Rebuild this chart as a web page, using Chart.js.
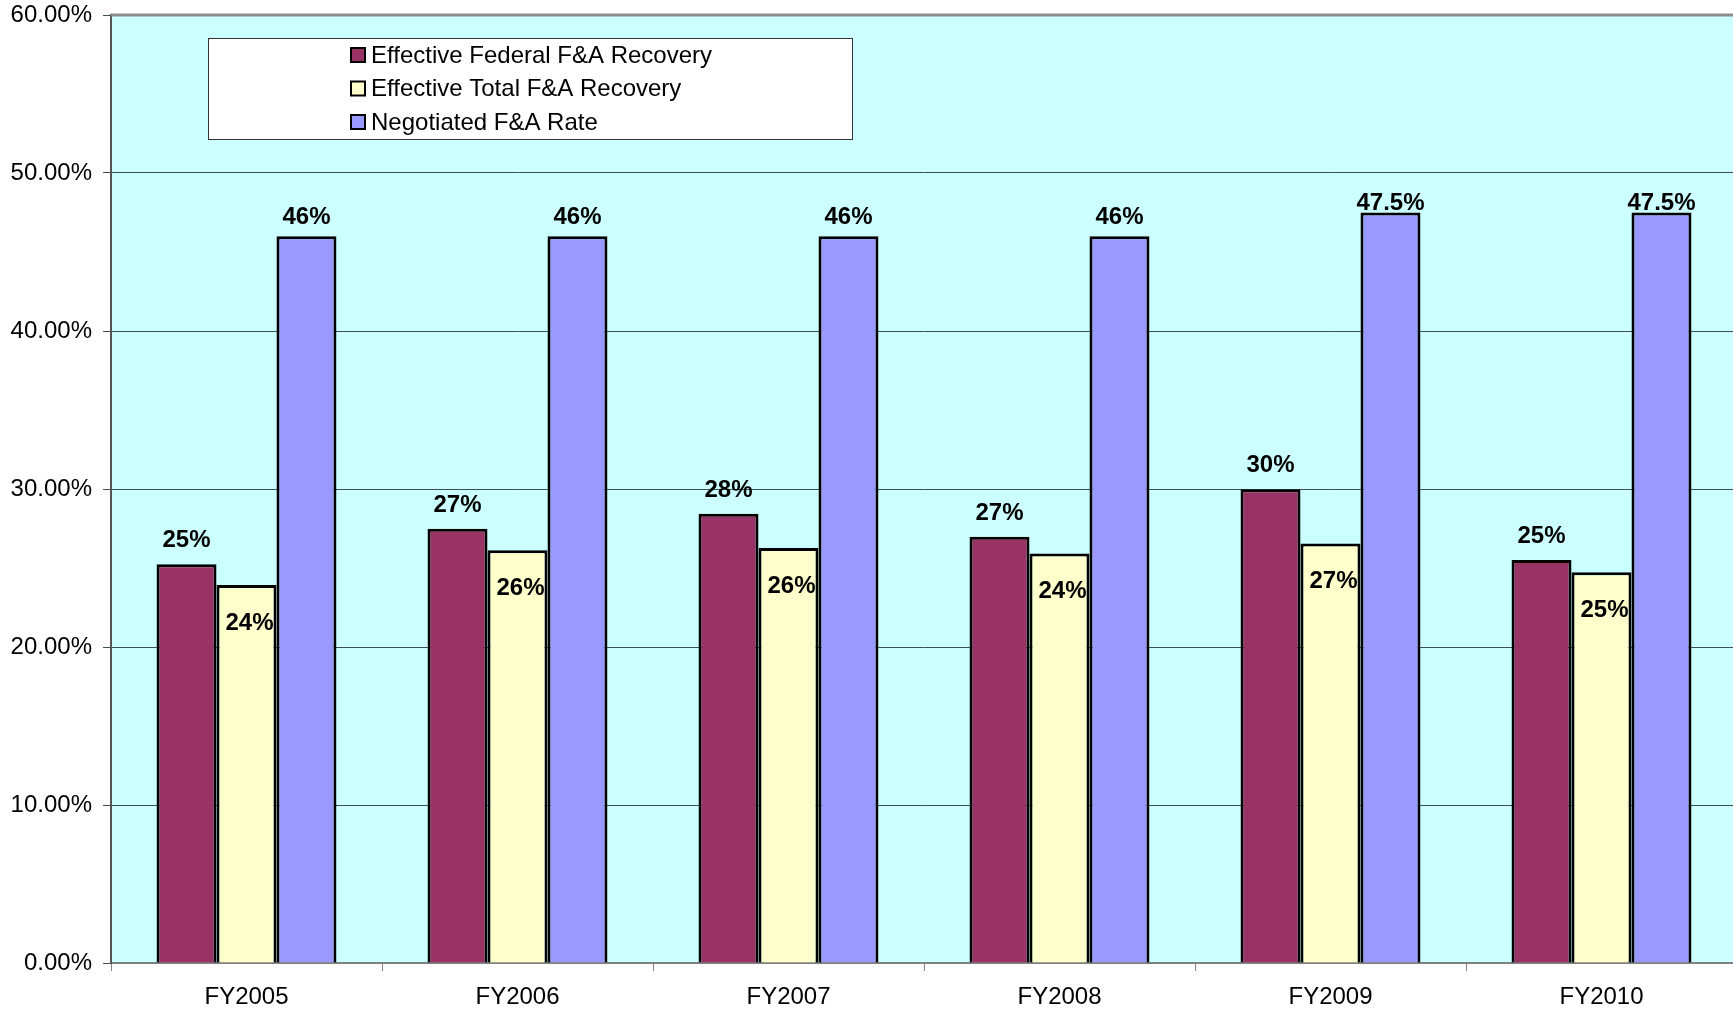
<!DOCTYPE html>
<html>
<head>
<meta charset="utf-8">
<script src="https://cdn.jsdelivr.net/npm/chart.js"></script>
<style>
    html, body { margin: 0; padding: 0; background: #fff; overflow: hidden; }
    #fa_wrap { position: relative; width: 1740px; height: 1010px; }
</style>
</head>
<body>
<div id="fa_wrap"><canvas id="fa_bar" width="1740" height="1010"></canvas></div>
<script>
// ===== データ =====
const categories = ['FY2005', 'FY2006', 'FY2007', 'FY2008', 'FY2009', 'FY2010'];
const seriesNames = ['Effective Federal F&A Recovery', 'Effective Total F&A Recovery', 'Negotiated F&A Rate'];
const federalRecovery = [25.24, 27.48, 28.43, 26.97, 29.99, 25.51];
const totalRecovery = [23.93, 26.13, 26.27, 25.92, 26.55, 24.73];
const negotiatedRate = [46, 46, 46, 46, 47.5, 47.5];
// 棒の上に表示されるラベル（元の図のまま）
const federalLabels = ['25%', '27%', '28%', '27%', '30%', '25%'];
const totalLabels = ['24%', '26%', '26%', '24%', '27%', '25%'];
const negotiatedLabels = ['46%', '46%', '46%', '46%', '47.5%', '47.5%'];
const yTicks = [0, 10, 20, 30, 40, 50, 60];

(function () {
    'use strict';

    const FONT = '"Liberation Sans", Arial, sans-serif';
    const COLORS = ['#993366', '#FFFFCC', '#9999FF'];

    // ===== プラグイン =====
    // プロット領域の背景と上枠
    const plotBg = {
        id: 'plotBg',
        beforeDraw(chart) {
            const { ctx, chartArea: a } = chart;
            ctx.save();
            ctx.fillStyle = '#CCFFFF';
            ctx.fillRect(a.left, a.top, a.right - a.left, a.bottom - a.top);
            ctx.restore();
        },
        afterDraw(chart) {
            const { ctx, chartArea: a } = chart;
            ctx.save();
            ctx.strokeStyle = '#8c8c8c';
            ctx.lineWidth = 3;
            ctx.beginPath();
            ctx.moveTo(a.left, a.top);
            ctx.lineTo(a.right, a.top);
            ctx.stroke();
            ctx.restore();
        }
    };

    // データラベル
    const barLabels = {
        id: 'barLabels',
        afterDatasetsDraw(chart) {
            const { ctx } = chart;
            const labelSets = [federalLabels, totalLabels, negotiatedLabels];
            ctx.save();
            ctx.font = 'bold 24px ' + FONT;
            ctx.fillStyle = '#000';
            ctx.textAlign = 'center';
            chart.data.datasets.forEach((ds, di) => {
                const meta = chart.getDatasetMeta(di);
                meta.data.forEach((el, i) => {
                    const txt = labelSets[di][i];
                    if (di === 1) {
                        // 黄色の棒は内側に表示
                        ctx.textBaseline = 'middle';
                        ctx.fillText(txt, el.x + 3, el.y + 38);
                    } else {
                        ctx.textBaseline = 'alphabetic';
                        const gap = di === 0 ? 17 : (ds.data[i] > 47 ? 3 : 12);
                        ctx.fillText(txt, el.x, el.y - gap);
                    }
                });
            });
            ctx.restore();
        }
    };

    // 凡例（プロット内の枠）
    const boxLegend = {
        id: 'boxLegend',
        afterDraw(chart) {
            const { ctx } = chart;
            const x0 = 208, y0 = 38, w = 644, h = 101;
            ctx.save();
            ctx.fillStyle = '#fff';
            ctx.fillRect(x0, y0, w, h);
            ctx.strokeStyle = '#333';
            ctx.lineWidth = 1;
            ctx.strokeRect(x0 + 0.5, y0 + 0.5, w, h);
            ctx.font = '24px ' + FONT;
            ctx.textBaseline = 'middle';
            ctx.textAlign = 'left';
            chart.data.datasets.forEach((ds, i) => {
                const cy = 55 + i * 33.5;
                ctx.fillStyle = ds.backgroundColor;
                ctx.fillRect(351, cy - 7, 14, 14);
                ctx.strokeStyle = '#000';
                ctx.lineWidth = 2;
                ctx.strokeRect(351, cy - 7, 14, 14);
                ctx.fillStyle = '#000';
                ctx.fillText(ds.label, 371, cy + 1);
            });
            ctx.restore();
        }
    };

    // ===== メイン処理 =====
    const canvas = document.getElementById('fa_bar');
    const values = [federalRecovery, totalRecovery, negotiatedRate];

    new Chart(canvas.getContext('2d'), {
        type: 'bar',
        data: {
            labels: categories,
            datasets: seriesNames.map((name, i) => ({
                label: name,
                data: values[i],
                backgroundColor: COLORS[i],
                borderColor: '#000',
                borderWidth: 3,
                borderSkipped: 'bottom',
                categoryPercentage: 0.664,
                barPercentage: 1.0
            }))
        },
        options: {
            responsive: false,
            animation: false,
            devicePixelRatio: 1,
            layout: { padding: { top: 15, right: 3, left: 0, bottom: 0 } },
            plugins: {
                legend: { display: false },
                tooltip: { enabled: false }
            },
            scales: {
                x: {
                    grid: { offset: true, drawOnChartArea: false, color: '#808080', tickLength: 8 },
                    border: { color: '#808080', width: 2 },
                    ticks: { color: '#000', font: { family: FONT, size: 24 }, padding: 12 },
                    afterFit(s) { s.height = 47; }
                },
                y: {
                    min: 0,
                    max: 60,
                    afterBuildTicks(s) { s.ticks = yTicks.map(v => ({ value: v })); },
                    grid: { color: '#3d4f4f', lineWidth: 1, tickLength: 8 },
                    border: { color: '#555', width: 2 },
                    ticks: {
                        color: '#000',
                        font: { family: FONT, size: 24 },
                        padding: 11,
                        callback: v => Number(v).toFixed(2) + '%'
                    },
                    afterFit(s) {
                        s.width = 111;
                        // 上端ラベルのための余白を付けない
                        s.paddingTop = 0;
                        s.paddingBottom = 0;
                    }
                }
            }
        },
        plugins: [plotBg, barLabels, boxLegend]
    });
})();
</script>
</body>
</html>
